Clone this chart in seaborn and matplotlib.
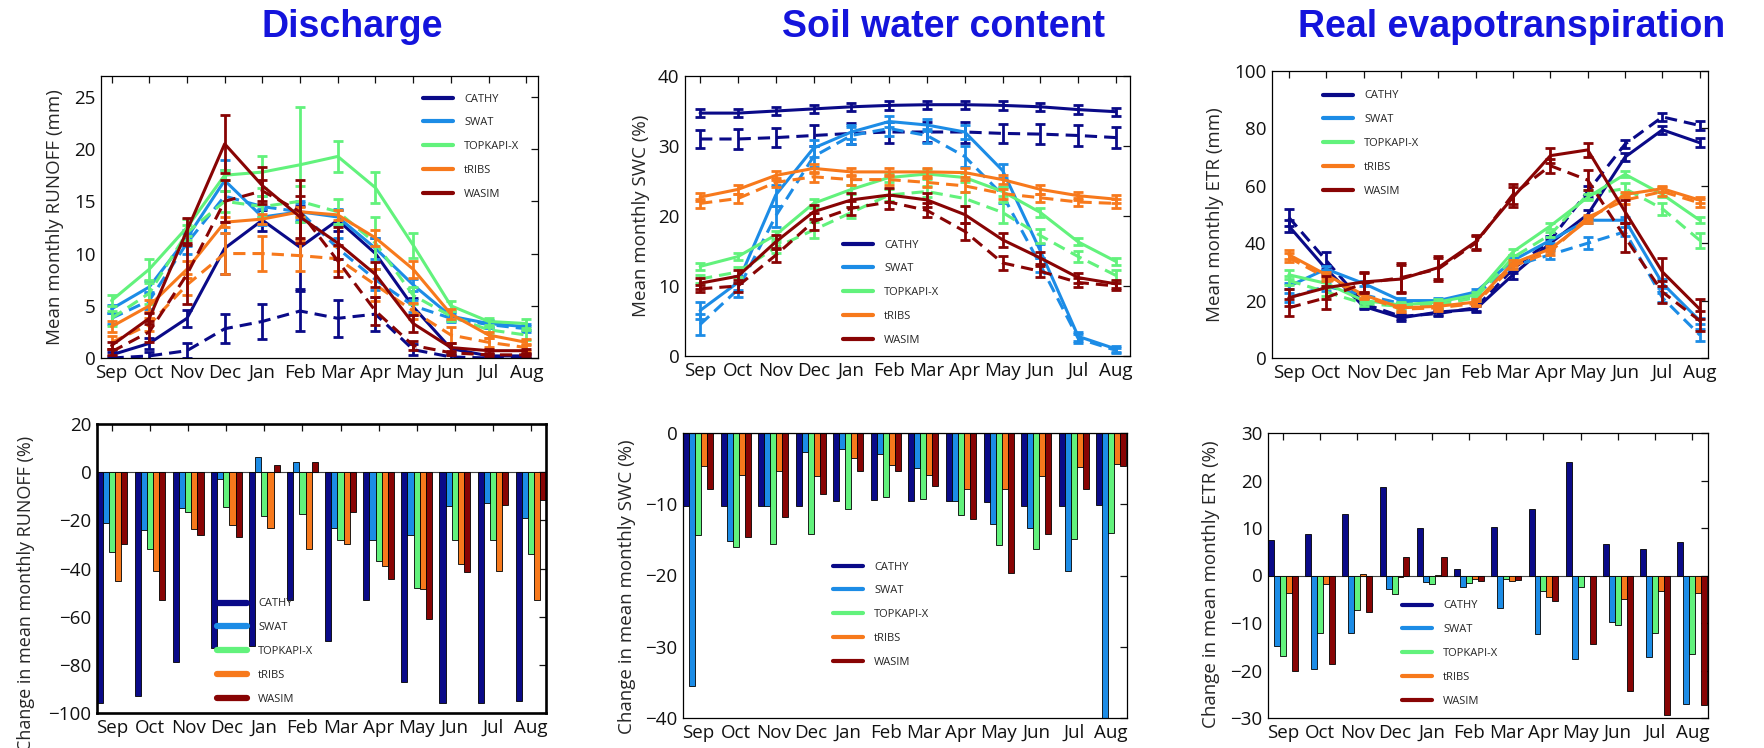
import numpy as np
import pandas as pd
import matplotlib
matplotlib.use("Agg")
import matplotlib.pyplot as plt
import seaborn as sns
from matplotlib.lines import Line2D

# ---------------- data ----------------
MONTHS = ["Sep", "Oct", "Nov", "Dec", "Jan", "Feb", "Mar", "Apr", "May", "Jun", "Jul", "Aug"]
MODELS = ["CATHY", "SWAT", "TOPKAPI-X", "tRIBS", "WASIM"]
COLORS = {"CATHY": "#0a0a88", "SWAT": "#1c8ce6", "TOPKAPI-X": "#62f27c",
          "tRIBS": "#f7791c", "WASIM": "#880404"}

# Discharge: mean monthly runoff (mm), control (solid) and future (dashed)
RUNOFF_CTRL = {
    "CATHY":     [0.3, 1.4, 3.8, 10.5, 13.2, 10.6, 13.2, 10.0, 4.9, 0.9, 0.2, 0.2],
    "SWAT":      [4.7, 6.8, 11.5, 17.0, 13.5, 14.0, 13.5, 10.5, 7.0, 4.0, 3.3, 3.0],
    "TOPKAPI-X": [5.5, 8.5, 12.5, 17.5, 17.8, 18.5, 19.3, 16.3, 10.8, 5.0, 3.5, 3.3],
    "tRIBS":     [3.0, 5.0, 8.5, 13.0, 13.3, 14.0, 13.7, 11.5, 8.5, 4.2, 2.2, 1.5],
    "WASIM":     [1.2, 3.8, 12.2, 20.5, 16.5, 13.5, 11.0, 8.0, 3.3, 1.0, 0.7, 0.7],
}
RUNOFF_CTRL_ERR = {
    "CATHY":     [0.3, 0.5, 0.8, 2.5, 1.0, 4.0, 1.0, 1.5, 0.8, 0.5, 0.2, 0.2],
    "SWAT":      [0.4, 0.6, 0.8, 1.0, 0.8, 0.8, 0.8, 1.0, 0.6, 0.4, 0.3, 0.3],
    "TOPKAPI-X": [0.5, 1.0, 0.8, 0.5, 1.5, 5.5, 1.5, 1.5, 1.2, 0.5, 0.3, 0.4],
    "tRIBS":     [0.5, 0.6, 0.8, 0.5, 0.5, 0.5, 0.5, 0.8, 0.8, 0.5, 0.3, 0.3],
    "WASIM":     [0.3, 0.5, 1.2, 2.8, 1.8, 2.0, 1.5, 1.2, 0.8, 0.4, 0.2, 0.2],
}
RUNOFF_FUT = {
    "CATHY":     [0.0, 0.2, 0.7, 2.8, 3.5, 4.5, 3.8, 4.2, 0.8, 0.1, 0.0, 0.0],
    "SWAT":      [3.8, 5.5, 11.0, 15.5, 14.5, 14.0, 10.5, 7.5, 5.0, 3.8, 3.2, 2.8],
    "TOPKAPI-X": [3.8, 6.2, 12.0, 15.0, 14.5, 15.0, 14.0, 11.0, 6.0, 4.0, 2.7, 2.2],
    "tRIBS":     [1.5, 3.2, 7.0, 10.0, 10.0, 9.8, 9.5, 7.0, 4.5, 2.2, 1.5, 1.0],
    "WASIM":     [0.6, 2.5, 8.0, 15.0, 16.0, 14.0, 9.3, 4.5, 1.2, 0.5, 0.3, 0.3],
}
RUNOFF_FUT_ERR = {
    "CATHY":     [0.2, 0.4, 0.7, 1.4, 1.7, 1.9, 1.8, 1.6, 0.5, 0.2, 0.1, 0.1],
    "SWAT":      [0.5, 0.8, 1.0, 3.5, 1.0, 1.0, 1.0, 1.0, 0.6, 0.4, 0.3, 0.3],
    "TOPKAPI-X": [0.7, 1.0, 0.7, 1.0, 1.0, 1.5, 1.2, 2.5, 0.8, 0.5, 0.3, 0.5],
    "tRIBS":     [0.6, 0.6, 1.0, 2.0, 1.7, 1.5, 1.2, 1.5, 0.8, 0.8, 0.4, 0.3],
    "WASIM":     [0.3, 1.0, 2.8, 2.0, 1.0, 3.0, 1.5, 1.3, 0.4, 0.2, 0.1, 0.1],
}

# Soil water content (%)
SWC_CTRL = {
    "CATHY":     [34.7, 34.7, 35.0, 35.3, 35.6, 35.8, 35.9, 35.9, 35.8, 35.6, 35.2, 34.9],
    "SWAT":      [6.5, 10.5, 23.0, 29.7, 32.0, 33.5, 33.0, 32.0, 26.5, 15.0, 2.8, 1.0],
    "TOPKAPI-X": [12.8, 14.2, 17.3, 21.8, 23.8, 25.5, 26.0, 25.5, 23.5, 20.5, 16.3, 13.5],
    "tRIBS":     [22.7, 23.8, 25.8, 26.8, 26.3, 26.3, 26.3, 26.2, 25.2, 23.8, 22.9, 22.4],
    "WASIM":     [10.4, 11.4, 16.3, 20.6, 22.3, 23.0, 22.3, 20.2, 16.6, 14.0, 11.2, 10.3],
}
SWC_CTRL_ERR = {
    "CATHY":     [0.6, 0.6, 0.6, 0.6, 0.6, 0.6, 0.6, 0.6, 0.6, 0.6, 0.6, 0.6],
    "SWAT":      [1.2, 1.0, 1.5, 1.2, 1.0, 0.8, 0.8, 1.0, 1.0, 1.0, 0.6, 0.4],
    "TOPKAPI-X": [0.5, 0.5, 0.6, 0.6, 0.6, 0.6, 0.7, 0.7, 0.7, 0.6, 0.5, 0.5],
    "tRIBS":     [0.6, 0.6, 0.6, 0.6, 0.6, 0.6, 0.6, 0.6, 0.6, 0.6, 0.6, 0.6],
    "WASIM":     [0.8, 0.9, 1.0, 1.0, 1.0, 1.0, 1.0, 1.2, 1.0, 0.9, 0.7, 0.6],
}
SWC_FUT = {
    "CATHY":     [31.0, 31.0, 31.2, 31.5, 31.8, 32.0, 32.0, 32.0, 31.8, 31.7, 31.5, 31.2],
    "SWAT":      [4.5, 9.5, 20.0, 28.5, 31.5, 32.5, 31.5, 28.5, 23.0, 13.0, 2.5, 0.8],
    "TOPKAPI-X": [11.0, 12.0, 15.5, 18.0, 20.5, 23.0, 23.5, 22.5, 20.5, 17.2, 14.2, 11.5],
    "tRIBS":     [21.8, 22.5, 24.8, 25.6, 25.2, 25.2, 24.8, 24.3, 23.2, 22.6, 22.0, 21.8],
    "WASIM":     [9.6, 10.0, 14.4, 19.2, 21.1, 22.0, 20.8, 17.8, 13.3, 12.1, 10.5, 10.0],
}
SWC_FUT_ERR = {
    "CATHY":     [1.3, 1.4, 1.4, 1.5, 1.5, 1.5, 1.4, 1.5, 1.4, 1.4, 1.5, 1.5],
    "SWAT":      [1.5, 1.0, 1.5, 1.5, 1.2, 1.0, 1.0, 1.5, 1.2, 1.0, 0.6, 0.4],
    "TOPKAPI-X": [0.6, 0.7, 0.8, 1.2, 0.8, 0.8, 0.8, 1.0, 1.5, 1.0, 0.8, 0.8],
    "tRIBS":     [0.6, 0.6, 0.7, 0.7, 0.7, 0.7, 0.7, 0.8, 0.7, 0.6, 0.6, 0.6],
    "WASIM":     [0.5, 0.8, 1.0, 1.2, 1.0, 1.0, 1.0, 1.2, 1.0, 0.8, 0.6, 0.5],
}

# Real evapotranspiration (mm)
ETR_CTRL = {
    "CATHY":     [46, 31, 18, 14, 16, 17, 29, 40, 50, 70, 79.5, 75],
    "SWAT":      [25, 31, 26, 20, 20, 23, 34, 41, 48, 48, 26, 13],
    "TOPKAPI-X": [29, 26, 20, 18.5, 19.5, 22, 37, 46, 56, 64, 57, 48],
    "tRIBS":     [36, 29, 22, 17.5, 18, 19.5, 33, 38, 48, 57, 59, 55],
    "WASIM":     [21, 24.5, 26.5, 27.5, 31.5, 40.5, 56, 70.5, 72.5, 51, 30, 17],
}
ETR_CTRL_ERR = {
    "CATHY":     [2.0, 1.5, 1.0, 1.0, 1.0, 1.0, 1.5, 1.5, 1.5, 1.5, 1.5, 1.5],
    "SWAT":      [1.0, 1.0, 1.0, 1.0, 1.0, 1.0, 1.0, 1.0, 1.0, 1.0, 1.5, 1.0],
    "TOPKAPI-X": [1.5, 1.0, 1.0, 1.0, 1.0, 1.0, 1.0, 1.0, 1.0, 1.0, 1.0, 1.0],
    "tRIBS":     [1.5, 1.0, 1.0, 1.0, 1.0, 1.0, 1.0, 1.0, 1.0, 1.0, 1.0, 1.0],
    "WASIM":     [3.0, 4.0, 3.5, 5.0, 4.0, 2.5, 3.5, 2.5, 2.5, 4.0, 5.0, 3.5],
}
ETR_FUT = {
    "CATHY":     [49, 34, 19, 14.5, 15.5, 17.5, 31, 41, 58, 74.5, 84, 81],
    "SWAT":      [21, 25, 22, 19, 19, 22, 32, 36, 40, 44, 21, 8],
    "TOPKAPI-X": [27, 23, 19, 18, 18.5, 21, 35, 43, 57, 59, 52, 41],
    "tRIBS":     [35, 28, 21.5, 17, 17.5, 19, 32, 37, 49, 55, 58, 54],
    "WASIM":     [17.5, 21, 26, 28, 31, 40, 57, 67, 62, 42, 23, 13],
}
ETR_FUT_ERR = {
    "CATHY":     [3.0, 3.0, 1.5, 1.0, 1.0, 1.0, 1.5, 1.5, 2.0, 1.5, 1.5, 1.5],
    "SWAT":      [1.5, 1.5, 1.0, 1.0, 1.0, 1.0, 1.0, 1.5, 2.0, 1.5, 1.5, 2.0],
    "TOPKAPI-X": [1.5, 1.5, 1.0, 1.0, 1.0, 1.0, 1.0, 1.0, 1.5, 2.0, 2.0, 2.5],
    "tRIBS":     [1.5, 1.0, 1.0, 1.0, 1.0, 1.0, 1.0, 1.0, 1.0, 1.5, 1.5, 1.5],
    "WASIM":     [3.0, 4.0, 3.5, 5.0, 4.0, 2.5, 3.5, 2.5, 3.5, 5.0, 4.0, 3.5],
}

# Relative changes (%)
RUNOFF_CHANGE = {
    "CATHY":     [-96, -93, -79, -73, -72, -53, -70, -53, -87, -96, -96, -95],
    "SWAT":      [-21, -24, -15, -3, 6.5, 4.4, -23, -28, -26, -14, -13, -19],
    "TOPKAPI-X": [-33, -32, -16.5, -14.5, -18, -17.5, -28, -37, -48, -28, -28, -34],
    "tRIBS":     [-45, -41, -23.5, -22, -23, -32, -30, -39, -48.5, -38, -41, -53],
    "WASIM":     [-30, -53, -26, -27, 3, 4.4, -16.5, -44.5, -61, -41.5, -13.5, -11.5],
}
SWC_CHANGE = {
    "CATHY":     [-10.3, -10.3, -10.2, -10.2, -9.5, -9.4, -9.6, -9.5, -9.7, -10.2, -10.2, -10.1],
    "SWAT":      [-35.5, -15.1, -10.2, -2.6, -2.3, -2.9, -4.9, -9.5, -12.8, -13.3, -19.3, -42.0],
    "TOPKAPI-X": [-14.3, -16.0, -15.6, -14.2, -10.6, -9.0, -9.3, -11.5, -15.7, -16.3, -14.9, -14.0],
    "tRIBS":     [-4.7, -5.9, -5.4, -6.0, -3.5, -4.5, -5.9, -7.9, -7.9, -6.0, -4.8, -4.3],
    "WASIM":     [-7.8, -14.6, -11.8, -8.5, -5.3, -5.3, -7.5, -12.1, -19.6, -14.2, -7.9, -4.6],
}
ETR_CHANGE = {
    "CATHY":     [7.5, 8.7, 13.0, 18.6, 10.1, 1.3, 10.3, 14.0, 23.9, 6.6, 5.6, 7.1],
    "SWAT":      [-14.9, -19.6, -12.0, -2.9, -1.4, -2.5, -6.8, -12.4, -17.5, -9.8, -17.2, -27.0],
    "TOPKAPI-X": [-17.0, -12.0, -7.3, -3.9, -1.8, -1.6, -0.8, -3.2, -2.5, -10.5, -12.2, -16.6],
    "tRIBS":     [-3.6, -1.8, 0.3, -0.3, 0.1, -0.8, -1.1, -4.5, 0.0, -4.9, -3.2, -3.6],
    "WASIM":     [-20.1, -18.7, -7.7, 3.8, 3.8, -1.1, -0.9, -5.4, -14.4, -24.4, -29.3, -27.2],
}

TITLES = ["Discharge", "Soil water content", "Real evapotranspiration"]

# ---------------- style ----------------
sns.set_style("white")
plt.rcParams["font.family"] = ["Open Sans", "DejaVu Sans"]
plt.rcParams["axes.unicode_minus"] = True

W, H = 1764, 748
fig = plt.figure(figsize=(W / 100, H / 100), dpi=100)


def add_ax(l, t, r, b):
    return fig.add_axes([l / W, 1 - b / H, (r - l) / W, (b - t) / H])


def style_ax(ax, frame_lw=0.9):
    ax.tick_params(direction="in", top=True, right=True, length=5, width=0.9,
                   labelsize=13.5, pad=4, colors="#111111")
    for s in ax.spines.values():
        s.set_visible(True)
        s.set_linewidth(frame_lw)
        s.set_color("black")
    ax.set_xticks(range(12))
    ax.set_xticklabels(MONTHS)
    ax.set_xlabel("")


def add_legend(ax, x, y, lw=3.0):
    handles = [Line2D([0], [0], color=COLORS[m], lw=lw) for m in MODELS]
    ax.legend(handles, MODELS, loc="upper left", bbox_to_anchor=(x / W, 1 - y / H),
              bbox_transform=fig.transFigure, frameon=False, fontsize=8,
              handlelength=2.7, handletextpad=1.0, labelspacing=1.15,
              borderpad=0, borderaxespad=0)


def line_panel(ax, ctrl, ctrl_err, fut, fut_err):
    x = np.arange(12)
    for m in MODELS:
        c = COLORS[m]
        sns.lineplot(x=x, y=ctrl[m], color=c, lw=2.2, ax=ax, legend=False)
        ax.errorbar(x, ctrl[m], yerr=ctrl_err[m], fmt="none", ecolor=c,
                    elinewidth=2.0, capsize=3.5, capthick=2.0)
        sns.lineplot(x=x, y=fut[m], color=c, lw=2.2, linestyle=(0, (4, 2.3)),
                     ax=ax, legend=False)
        ax.errorbar(x, fut[m], yerr=fut_err[m], fmt="none", ecolor=c,
                    elinewidth=2.0, capsize=3.5, capthick=2.0)


def bar_panel(ax, change):
    rows = [{"month": mo, "model": m, "value": change[m][i]}
            for m in MODELS for i, mo in enumerate(MONTHS)]
    df = pd.DataFrame(rows)
    sns.barplot(data=df, x="month", y="value", hue="model", order=MONTHS,
                hue_order=MODELS, palette=COLORS, width=0.8, gap=0,
                edgecolor="black", linewidth=0.6, saturation=1,
                errorbar=None, legend=False, ax=ax)
    ax.axhline(0, color="#444444", lw=0.8, zorder=0.5)


# ---- top row ----
ax1 = add_ax(101, 76, 538, 358)
line_panel(ax1, RUNOFF_CTRL, RUNOFF_CTRL_ERR, RUNOFF_FUT, RUNOFF_FUT_ERR)
style_ax(ax1)
ax1.set_xlim(-0.28, 11.31)
ax1.set_ylim(0, 27)
ax1.set_yticks([0, 5, 10, 15, 20, 25])
ax1.set_ylabel("Mean monthly RUNOFF (mm)", fontsize=13.5)
ax1.yaxis.set_label_coords(-0.085, 0.5)
add_legend(ax1, 423, 93.5)

ax2 = add_ax(685, 76, 1130, 356)
line_panel(ax2, SWC_CTRL, SWC_CTRL_ERR, SWC_FUT, SWC_FUT_ERR)
style_ax(ax2)
ax2.set_xlim(-0.4, 11.37)
ax2.set_ylim(0, 40)
ax2.set_yticks([0, 10, 20, 30, 40])
ax2.set_ylabel("Mean monthly SWC (%)", fontsize=13.5)
ax2.yaxis.set_label_coords(-0.079, 0.5)
add_legend(ax2, 843, 239.5)

ax3 = add_ax(1272, 71, 1708, 358)
line_panel(ax3, ETR_CTRL, ETR_CTRL_ERR, ETR_FUT, ETR_FUT_ERR)
style_ax(ax3)
ax3.set_xlim(-0.45, 11.22)
ax3.set_ylim(0, 100)
ax3.set_yticks([0, 20, 40, 60, 80, 100])
ax3.set_ylabel("Mean monthly ETR (mm)", fontsize=13.5)
ax3.yaxis.set_label_coords(-0.11, 0.5)
add_legend(ax3, 1323, 90.5)

# ---- bottom row ----
ax4 = add_ax(97, 424, 546, 713)
bar_panel(ax4, RUNOFF_CHANGE)
style_ax(ax4, frame_lw=1.9)
ax4.set_xlim(-0.4, 11.4)
ax4.set_ylim(-100, 20)
ax4.set_yticks([-100, -80, -60, -40, -20, 0, 20])
ax4.set_ylabel("Change in mean monthly RUNOFF (%)", fontsize=13)
ax4.yaxis.set_label_coords(-0.138, 0.415)
add_legend(ax4, 217, 598.5, lw=4.5)

ax5 = add_ax(683, 433, 1127, 718)
bar_panel(ax5, SWC_CHANGE)
style_ax(ax5)
ax5.set_xlim(-0.4, 11.42)
ax5.set_ylim(-40, 0)
ax5.set_yticks([-40, -30, -20, -10, 0])
ax5.set_ylabel("Change in mean monthly SWC (%)", fontsize=13.5)
ax5.yaxis.set_label_coords(-0.106, 0.46)
add_legend(ax5, 833, 561.5)

ax6 = add_ax(1268, 433, 1708, 718)
bar_panel(ax6, ETR_CHANGE)
style_ax(ax6)
ax6.set_xlim(-0.4, 11.42)
ax6.set_ylim(-30, 30)
ax6.set_yticks([-30, -20, -10, 0, 10, 20, 30])
ax6.set_ylabel("Change in mean monthly ETR (%)", fontsize=13.5)
ax6.yaxis.set_label_coords(-0.109, 0.47)
add_legend(ax6, 1402, 600.5)

# ---- titles ----
for txt, cx in zip(TITLES, [352, 944, 1512]):
    fig.text(cx / W, 1 - 37 / H, txt, ha="center", va="baseline",
             fontsize=27, fontweight="bold", color="#1414dc",
             family=["Liberation Sans", "DejaVu Sans"])

fig.savefig("out.png", dpi=100)
